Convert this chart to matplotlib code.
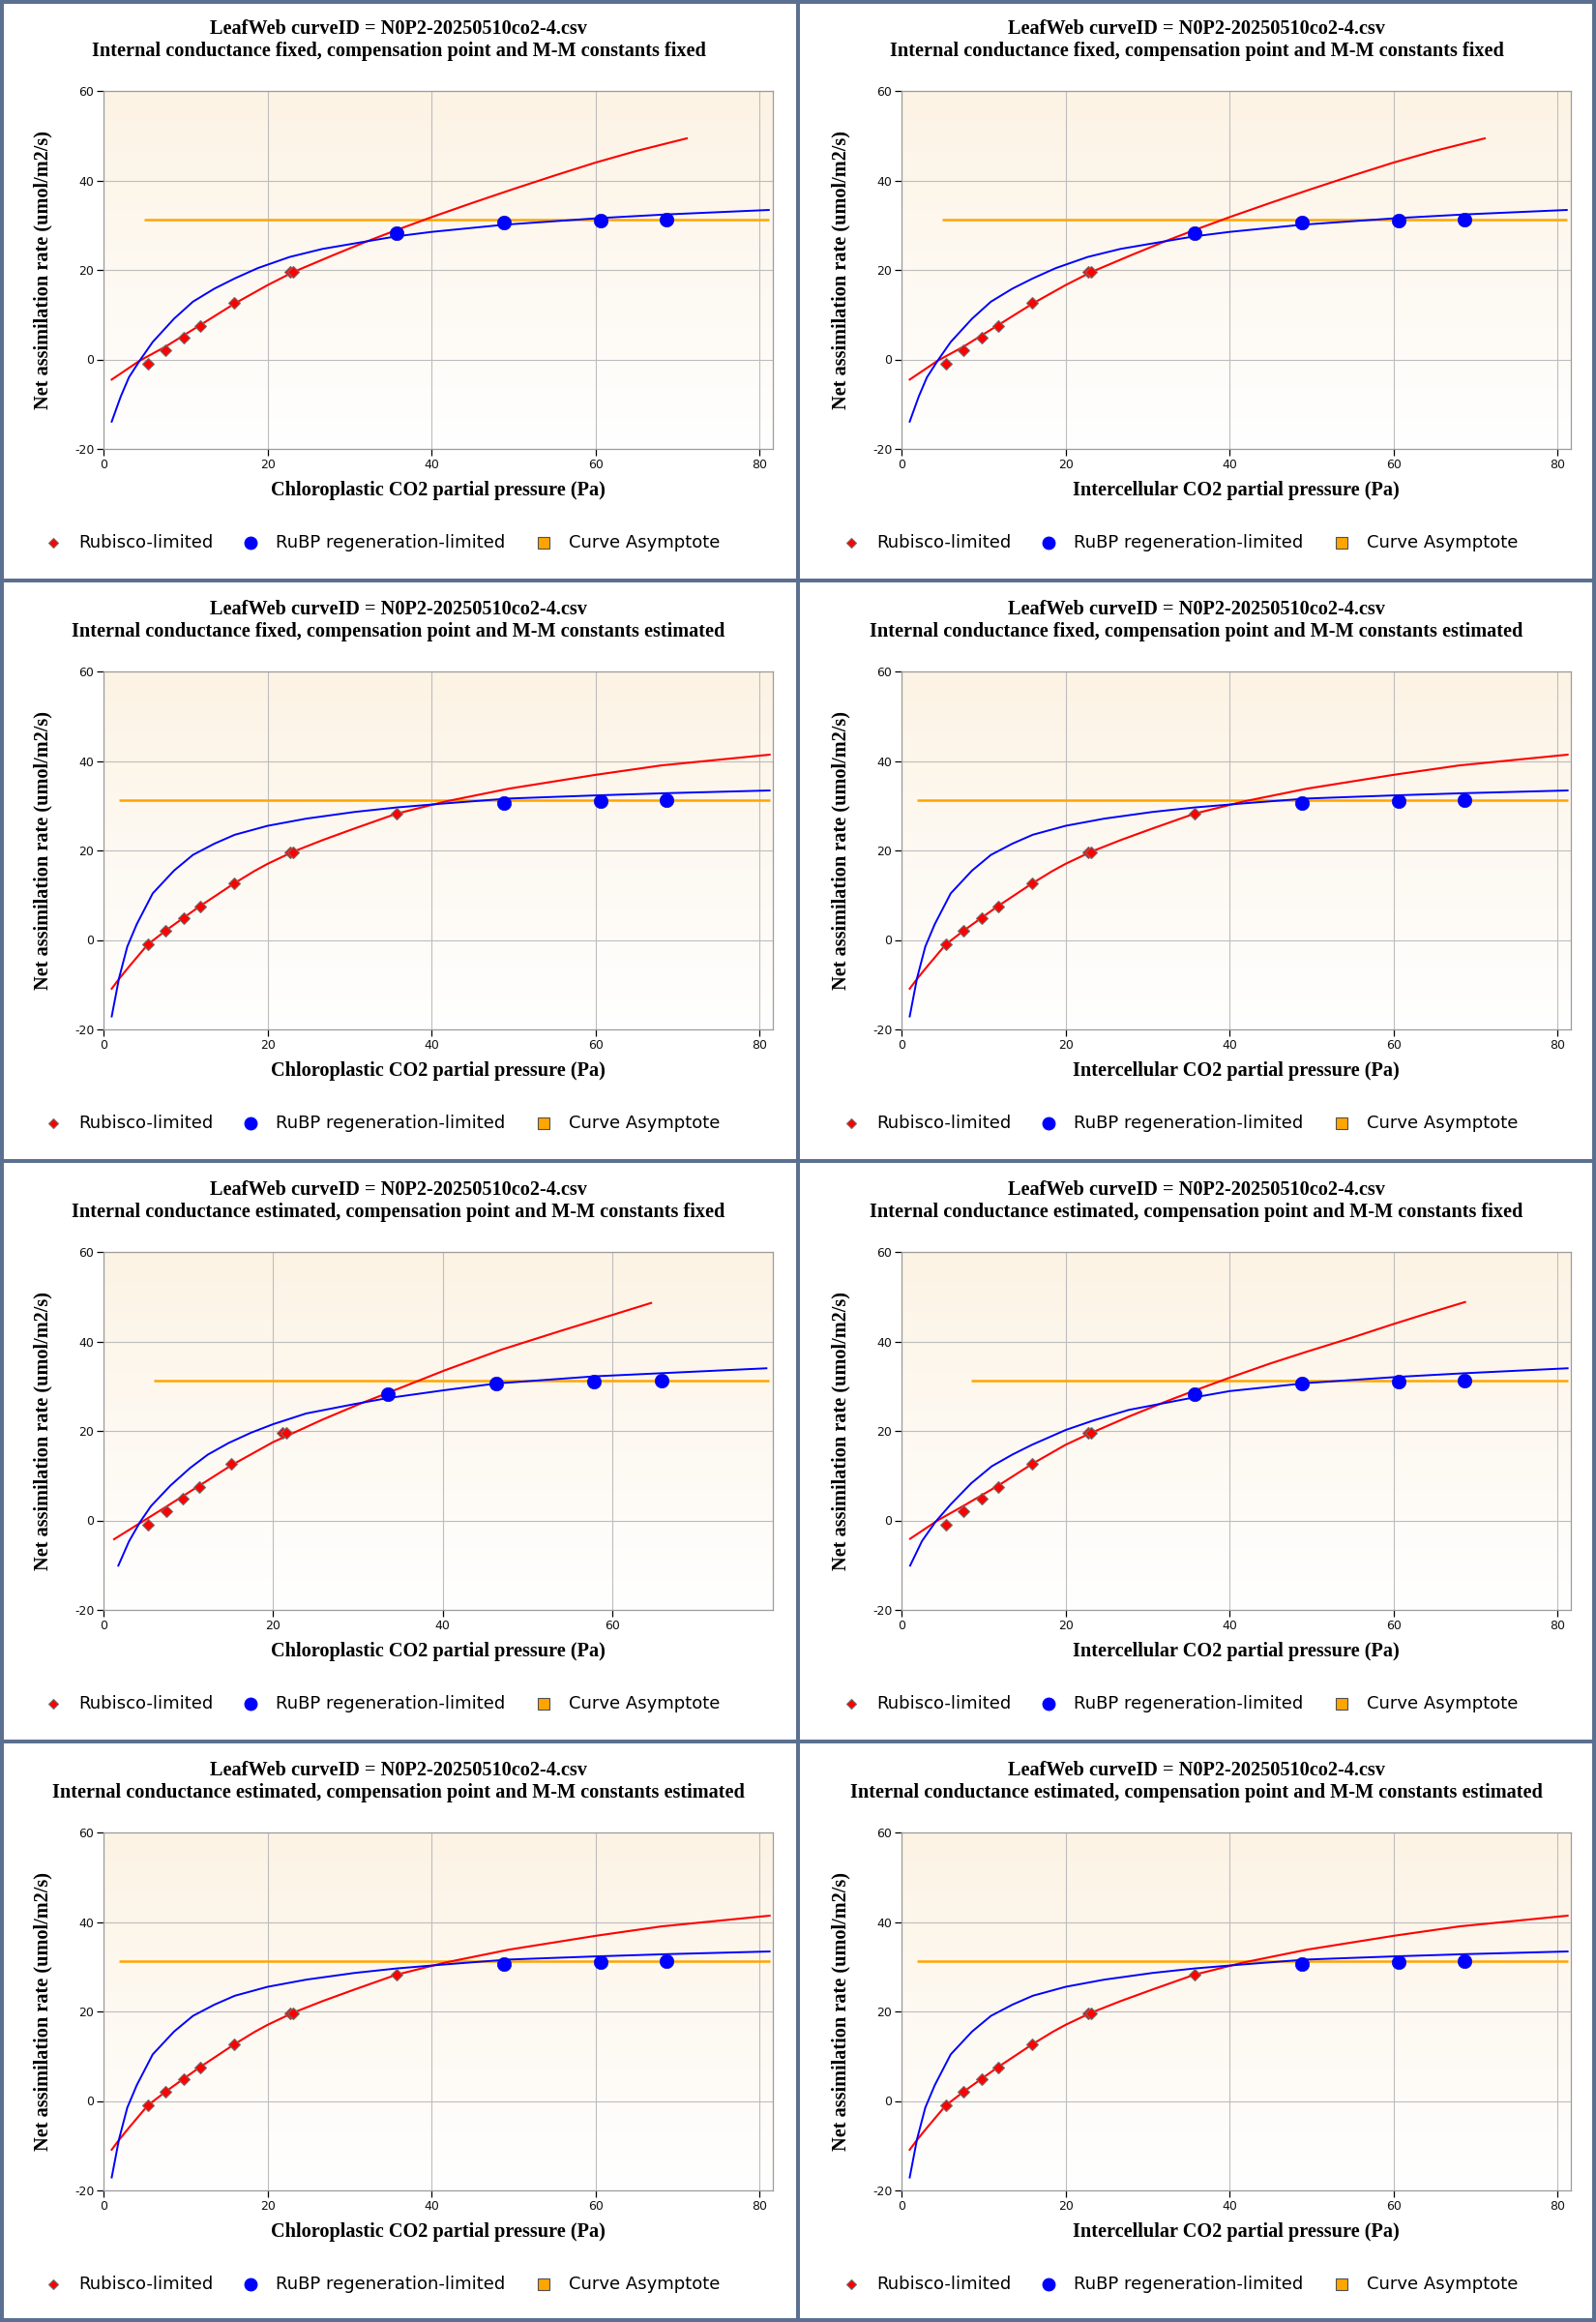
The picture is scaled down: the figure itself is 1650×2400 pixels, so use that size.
import numpy as np
import matplotlib
matplotlib.use("Agg")
import matplotlib.pyplot as plt
from matplotlib.lines import Line2D
from matplotlib.patches import Rectangle

plt.rcParams['axes.unicode_minus'] = False

# ---------------- data ----------------
file_title = "LeafWeb curveID = N0P2-20250510co2-4.csv"
subtitles = [
    "Internal conductance fixed, compensation point and M-M constants fixed",
    "Internal conductance fixed, compensation point and M-M constants estimated",
    "Internal conductance estimated, compensation point and M-M constants fixed",
    "Internal conductance estimated, compensation point and M-M constants estimated",
]
xlabels = ["Chloroplastic CO2 partial pressure (Pa)", "Intercellular CO2 partial pressure (Pa)"]
ylabel = "Net assimilation rate (umol/m2/s)"
legend_labels = ["Rubisco-limited", "RuBP regeneration-limited", "Curve Asymptote"]
x_ticks = [0, 20, 40, 60, 80]
y_ticks = [-20, 0, 20, 40, 60]

# measured points (Ci, or Cc with fixed gm)
rub_x = [5.4, 7.6, 9.8, 11.8, 15.9, 22.7, 23.1]
rub_y = [-1.0, 2.1, 4.8, 7.5, 12.6, 19.6, 19.6]
mid_x = [35.7]
mid_y = [28.2]
rubp_x = [48.8, 60.6, 68.6]
rubp_y = [30.5, 31.0, 31.15]
# measured points as Cc with estimated gm
rub_x_gm = [5.3, 7.4, 9.4, 11.3, 15.1, 21.1, 21.6]
mid_x_gm = [33.5]
rubp_x_gm = [46.3, 57.9, 65.8]

asym_y = 31.15

# curve set A: gm fixed, constants fixed
red_A_x = [1.0, 4.4, 7.6, 11.9, 16.0, 20.0, 23.1, 28.0, 32.0, 35.7, 40.0, 45.0, 50.0, 55.0, 60.0, 65.0, 71.1]
red_A_y = [-4.5, -0.3, 2.9, 7.8, 12.5, 16.6, 19.5, 23.3, 26.3, 28.9, 31.8, 35.0, 38.1, 41.1, 44.0, 46.6, 49.4]
blue_A_x = [1.0, 2.1, 3.1, 4.4, 6.0, 8.6, 10.9, 13.5, 16.0, 18.8, 22.7, 26.7, 31.8, 35.7, 40.0, 48.8, 60.6, 68.6, 81.1]
blue_A_y = [-13.9, -8.3, -4.0, -0.3, 3.9, 9.1, 12.9, 15.8, 18.1, 20.4, 22.9, 24.7, 26.3, 27.5, 28.5, 30.1, 31.6, 32.4, 33.4]
asym_A_x = [4.9, 81.1]

# curve set B: constants estimated
red_B_x = [1.0, 1.9, 3.1, 5.4, 7.6, 9.8, 11.8, 14.1, 15.9, 18.4, 20.0, 23.1, 26.7, 30.6, 35.7, 41.6, 49.4, 60.0, 68.0, 81.2]
red_B_y = [-10.9, -8.7, -6.0, -1.0, 2.1, 5.0, 7.6, 10.4, 12.6, 15.4, 17.0, 19.7, 22.3, 24.9, 28.2, 30.9, 33.8, 36.9, 39.0, 41.4]
blue_B_x = [1.0, 1.9, 2.9, 4.05, 6.0, 8.6, 10.9, 13.5, 16.0, 20.0, 24.7, 30.6, 35.7, 41.6, 49.4, 60.0, 68.7, 81.2]
blue_B_y = [-17.1, -8.5, -1.5, 3.5, 10.4, 15.5, 19.0, 21.5, 23.5, 25.5, 27.1, 28.6, 29.6, 30.5, 31.6, 32.3, 32.8, 33.4]
asym_B_x = [1.9, 81.2]

# curve set C: gm estimated, constants fixed, chloroplastic
red_C_x = [1.25, 4.3, 7.34, 11.25, 15.06, 20.0, 22.0, 25.8, 30.3, 33.4, 40.2, 47.0, 54.0, 60.0, 64.6]
red_C_y = [-4.2, -0.6, 3.0, 7.7, 12.3, 17.5, 19.2, 22.5, 26.1, 28.4, 33.5, 38.2, 42.4, 45.9, 48.6]
blue_C_x = [1.75, 3.0, 4.3, 5.6, 7.9, 10.2, 12.3, 14.75, 17.4, 20.0, 23.9, 29.6, 33.4, 40.2, 46.3, 57.9, 65.8, 78.2]
blue_C_y = [-10.1, -4.7, -0.4, 3.2, 7.8, 11.7, 14.7, 17.3, 19.6, 21.5, 23.9, 26.0, 27.3, 29.1, 30.6, 32.2, 32.9, 34.0]
asym_C_x = [5.9, 78.5]

# curve set D: gm estimated, constants fixed, intercellular
red_D_x = [1.05, 4.4, 7.6, 11.9, 15.9, 20.0, 22.8, 27.7, 32.0, 35.7, 40.0, 45.0, 49.4, 55.0, 60.0, 64.0, 68.7]
red_D_y = [-4.1, 0.0, 3.3, 7.9, 12.6, 16.9, 19.3, 23.2, 26.4, 29.0, 31.9, 35.1, 37.7, 40.9, 43.9, 46.2, 48.8]
blue_D_x = [1.05, 2.5, 4.15, 6.0, 8.5, 11.0, 13.5, 15.9, 20.0, 23.5, 27.7, 35.7, 40.0, 49.4, 60.7, 68.7, 81.2]
blue_D_y = [-10.1, -4.6, -0.3, 3.6, 8.3, 12.1, 14.7, 16.9, 20.2, 22.4, 24.7, 27.5, 28.9, 30.7, 32.1, 32.9, 34.0]
asym_D_x = [8.5, 81.2]

xmax_std = 81.6
xmax_gm = 78.96

# ---------------- styling / layout ----------------
W, H = 1650, 2400
PW, PH = 825, 600
BORDER = '#5b7090'
SERIF = 'Liberation Serif'
SANS = 'DejaVu Sans'

fig = plt.figure(figsize=(W / 100, H / 100), dpi=100)
fig.patch.set_facecolor('white')


def fx(px):
    return px / W


def fy(py):
    return 1 - py / H


grad = np.linspace(0, 1, 256)[:, None]
top = np.array([252, 243, 228]) / 255.0
bot = np.array([255, 255, 255]) / 255.0
grad_img = (top[None, None, :] * (1 - grad[:, :, None]) + bot[None, None, :] * grad[:, :, None])

sets = {
    'A': dict(rx=red_A_x, ry=red_A_y, bx=blue_A_x, by=blue_A_y, ax_=asym_A_x),
    'B': dict(rx=red_B_x, ry=red_B_y, bx=blue_B_x, by=blue_B_y, ax_=asym_B_x),
    'C': dict(rx=red_C_x, ry=red_C_y, bx=blue_C_x, by=blue_C_y, ax_=asym_C_x),
    'D': dict(rx=red_D_x, ry=red_D_y, bx=blue_D_x, by=blue_D_y, ax_=asym_D_x),
}

panels = []
for r in range(4):
    for c in range(2):
        if r == 0:
            key = 'A'
        elif r in (1, 3):
            key = 'B'
        else:
            key = 'C' if c == 0 else 'D'
        panels.append((r, c, key))

for r, c, key in panels:
    ox, oy = c * PW, r * PH
    left, right, topp, bottom = ox + 107, ox + 799, oy + 94, oy + 464
    ax = fig.add_axes([fx(left), fy(bottom), fx(right - left), (bottom - topp) / H])
    s = sets[key]
    gm_coords = (key == 'C')
    est = (key == 'B')
    ax.imshow(grad_img, extent=(0, 1, 0, 1), transform=ax.transAxes,
              aspect='auto', zorder=0, interpolation='bilinear')
    ax.plot(s['ax_'], [asym_y, asym_y], color='#ffa500', lw=1.8, zorder=2,
            solid_capstyle='butt')
    ax.plot(s['rx'], s['ry'], color='#ff0000', lw=1.5, zorder=3)
    ax.plot(s['bx'], s['by'], color='#0000ff', lw=1.4, zorder=3)

    rx = rub_x_gm if gm_coords else rub_x
    mx = mid_x_gm if gm_coords else mid_x
    px_ = rubp_x_gm if gm_coords else rubp_x
    if est:
        dx, dy = rx + mx, rub_y + mid_y
        cx, cy = px_, rubp_y
    else:
        dx, dy = rx, rub_y
        cx, cy = mx + px_, mid_y + rubp_y
    ax.plot(cx, cy, 'o', ms=10.4, color='#0000ff', mec='#1010d0', mew=0.5,
            zorder=4, linestyle='none')
    ax.plot(dx, dy, 'D', ms=6.4, color='#ff0000', mec='#707070', mew=0.8,
            zorder=5, linestyle='none')

    xmax = xmax_gm if gm_coords else xmax_std
    ax.set_xlim(0, xmax)
    ax.set_ylim(-20, 60)
    ax.set_xticks([t for t in x_ticks if t <= xmax])
    ax.set_yticks(y_ticks)
    ax.set_axisbelow(True)
    ax.grid(True, color='#bdbdbd', lw=0.8)
    for sp in ax.spines.values():
        sp.set_color('#9c9c9c')
        sp.set_linewidth(0.9)
    ax.tick_params(axis='both', direction='out', length=5, width=0.9,
                   color='black', labelsize=9, pad=2, labelcolor='#111111')
    for lab in ax.get_xticklabels() + ax.get_yticklabels():
        lab.set_fontfamily(SANS)

    # titles and axis labels
    fig.text(fx(ox + 412), fy(oy + 30), file_title, ha='center', va='center',
             fontsize=14.6, fontweight='bold', family=SERIF)
    fig.text(fx(ox + 412), fy(oy + 53), subtitles[r], ha='center', va='center',
             fontsize=14.6, fontweight='bold', family=SERIF)
    fig.text(fx(ox + 453), fy(oy + 507), xlabels[c], ha='center', va='center',
             fontsize=14.6, fontweight='bold', family=SERIF)
    fig.text(fx(ox + 44), fy(oy + 279), ylabel, ha='center', va='center',
             rotation=90, fontsize=14.6, fontweight='bold', family=SERIF)

    # legend
    ly = oy + 561
    items = [
        (55, 'D', 5.5, '#ff0000', '#707070'),
        (259, 'o', 9.2, '#0000ff', '#0000ff'),
        (562, 's', 9.0, '#ffa500', '#505050'),
    ]
    for (lx, mk, ms, fc, ec), lab in zip(items, legend_labels):
        fig.add_artist(Line2D([fx(ox + lx)], [fy(ly)], marker=mk, ms=ms,
                              color=fc, mec=ec, mew=0.8, linestyle='none',
                              transform=fig.transFigure))
        fig.text(fx(ox + lx + 26), fy(ly), lab, ha='left', va='center',
                 fontsize=13, family=SANS, color='black')

# panel borders
bw = 4
for xline in [0, PW - bw / 2, W - bw]:
    x0 = max(0, min(W - bw, xline))
    fig.add_artist(Rectangle((fx(x0), 0), bw / W, 1, transform=fig.transFigure,
                             facecolor=BORDER, edgecolor='none', zorder=10))
for yline in [0, PH - bw / 2, 2 * PH - bw / 2, 3 * PH - bw / 2, H - bw]:
    y0 = max(0, min(H - bw, yline))
    fig.add_artist(Rectangle((0, fy(y0 + bw)), 1, bw / H, transform=fig.transFigure,
                             facecolor=BORDER, edgecolor='none', zorder=10))

fig.savefig('out.png', dpi=100, facecolor='white')
